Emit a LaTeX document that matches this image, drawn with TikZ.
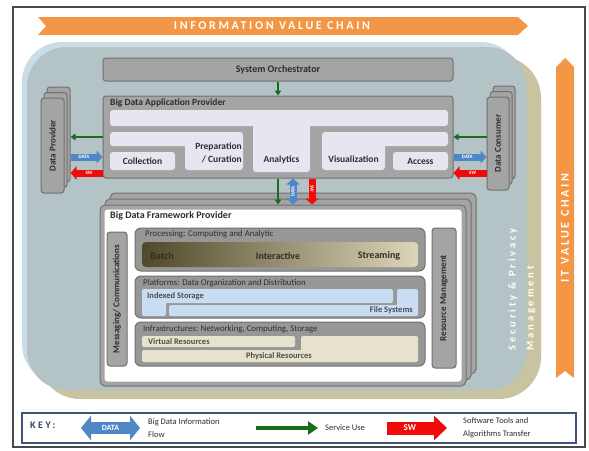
\documentclass[tikz,border=0pt]{standalone}
\usepackage{fontspec}
\setmainfont{Carlito}
\usetikzlibrary{arrows.meta}

\definecolor{chainorange}{HTML}{F39646}
\definecolor{halo}{HTML}{CADCE8}
\definecolor{slate}{HTML}{B4C3C5}
\definecolor{khaki}{HTML}{C8C3A0}
\definecolor{boxgray}{HTML}{A4A4A4}
\definecolor{boxedge}{HTML}{707070}
\definecolor{framegray}{HTML}{4A4A4A}
\definecolor{lavender}{HTML}{E9E5F0}
\definecolor{paleblue}{HTML}{C8DCF2}
\definecolor{paletan}{HTML}{E7E2CC}
\definecolor{olivedark}{HTML}{4F4829}
\definecolor{olivemid}{HTML}{978D64}
\definecolor{olivelight}{HTML}{DDD6B8}
\definecolor{datablue}{HTML}{4F86C6}
\definecolor{swred}{HTML}{F20A0A}
\definecolor{svcgreen}{HTML}{1A6B1A}
\definecolor{keynavy}{HTML}{3E5577}
\definecolor{ink}{HTML}{2E2E2E}

\begin{document}
\begin{tikzpicture}[x=1pt,y=-1pt,
  every node/.style={text=ink,inner sep=0pt},
  graybox/.style={draw=boxedge,fill=boxgray,line width=1pt,rounded corners=3pt},
  layer/.style={draw=boxedge,fill=boxgray!92!black,line width=1pt,rounded corners=6pt,minimum width=290pt},
  heading/.style={font=\fontsize{10}{12}\selectfont\bfseries},
  paneltitle/.style={anchor=west,font=\fontsize{9.5}{11}\selectfont\bfseries},
  layertitle/.style={anchor=west,font=\fontsize{8.8}{10}\selectfont},
  part/.style={font=\fontsize{9.5}{13.5}\selectfont\bfseries},
  item/.style={font=\fontsize{8.5}{10}\selectfont\bfseries,text=ink!85},
  sidelbl/.style={rotate=90,font=\fontsize{9}{10}\selectfont\bfseries},
  chain/.style={text=white,font=\fontsize{12}{14}\selectfont\bfseries\addfontfeature{LetterSpace=22}},
  svc/.style={draw=svcgreen,line width=1.6pt,-{Triangle[length=5pt,width=6.5pt]}},
  dataflow/.style={draw=datablue,line width=7pt,-{Triangle[length=6pt,width=13pt]}},
  databoth/.style={draw=datablue,line width=7pt,{Triangle[length=6pt,width=13pt]}-{Triangle[length=6pt,width=13pt]}},
  swflow/.style={draw=swred,line width=7pt,-{Triangle[length=6pt,width=13pt]}},
  tag/.style={text=white,font=\fontsize{5}{5}\selectfont\bfseries},
  keytext/.style={anchor=west,align=left,font=\fontsize{8.5}{12.5}\selectfont},
]
  \useasboundingbox (0,0) rectangle (589,450);
  \draw[framegray,line width=1.2pt] (13,7) rectangle (585,447);

  % value chains
  \fill[chainorange] (38,17) -- (518,17) -- (528,26) -- (518,35) -- (38,35) -- (46,26) -- cycle;
  \node[chain] (infochain) at (272,26) {INFORMATION VALUE CHAIN};
  \fill[chainorange] (556,378) -- (556,67) -- (565,58) -- (574,67) -- (574,378) -- (565,371) -- cycle;
  \node[chain,rotate=90] (itchain) at (565,228) {IT VALUE CHAIN};

  % security and privacy backdrop
  \fill[halo,rounded corners=40pt] (22,42) rectangle (521,384);
  \fill[khaki,rounded corners=42pt] (38,56) rectangle (541,399);
  \fill[slate,rounded corners=40pt] (27,47) rectangle (527,390);
  \node[chain,font=\fontsize{10.5}{18}\selectfont\bfseries\addfontfeature{LetterSpace=28},rotate=90,anchor=north west,align=left] (secpriv) at (508,351) {Security \& Privacy\\Management};

  % orchestrator and application provider
  \node[graybox,heading,minimum width=350pt,minimum height=23pt] (orch) at (278,69.5) {System Orchestrator};
  \node[graybox,minimum width=350pt,minimum height=82pt] (appprov) at (278,137) {};
  \node[paneltitle] (apptitle) at (110,102.5) {Big Data Application Provider};
  \fill[lavender,rounded corners=3pt] (110,110) rectangle (448,126) (253,110) rectangle (310,172);
  \fill[lavender,rounded corners=3pt] (110,132) rectangle (243,146) (185,132) rectangle (243,170);
  \fill[lavender,rounded corners=3pt] (110,152) rectangle (175,170);
  \fill[lavender,rounded corners=3pt] (322,132) rectangle (448,146) (322,132) rectangle (385,170);
  \fill[lavender,rounded corners=3pt] (393,152) rectangle (448,170);
  \node[part] (collect) at (142.5,161) {Collection};
  \node[part,anchor=east,align=right] (prep) at (242,153) {Preparation\\/ Curation};
  \node[part] (analytics) at (281.5,160) {Analytics};
  \node[part] (visual) at (353.5,159) {Visualization};
  \node[part] (access) at (420.5,161) {Access};
  \draw[svc] (orch) -- (appprov);

  % providers and consumers
  \foreach \dx/\dy/\n in {6/-11/C,3/-5.5/B,0/0/A}
    \node[graybox,minimum width=23pt,minimum height=95pt] (dprov\n) at (52.5+\dx,145.5+\dy) {};
  \node[sidelbl] (dprovlbl) at (dprovA) {Data Provider};
  \foreach \dx/\dy/\n in {6/-11/C,3/-5.5/B,0/0/A}
    \node[graybox,minimum width=22pt,minimum height=93pt] (dcons\n) at (498+\dx,143.5+\dy) {};
  \node[sidelbl] (dconslbl) at (dconsA) {Data Consumer};

  \draw[svc] (appprov.west) -- (dprovC.east |- appprov.west);
  \draw[dataflow] (dprovC.east |- 0,157) -- (appprov.west |- 0,157) node[tag,pos=.42] {DATA};
  \draw[swflow] (appprov.west |- 0,173) -- (dprovC.east |- 0,173) node[tag,pos=.42] {SW};
  \draw[svc] (dconsA.west |- appprov.east) -- (appprov.east);
  \draw[dataflow] (appprov.east |- 0,157) -- (dconsA.west |- 0,157) node[tag,pos=.42] {DATA};
  \draw[swflow] (dconsA.west |- 0,173) -- (appprov.east |- 0,173) node[tag,pos=.42] {SW};

  % framework provider
  \foreach \d/\n in {10/C,5/B}
    \node[graybox,rounded corners=5pt,minimum width=366pt,minimum height=181pt] (fwk\n) at (283+\d,295.5-1.2*\d) {};
  \node[graybox,rounded corners=5pt,minimum width=366pt,minimum height=181pt] (fwk) at (283,295.5) {};
  \node[fill=white,rounded corners=3pt,minimum width=357pt,minimum height=172pt] (fwkin) at (283,295.5) {};
  \node[paneltitle,font=\fontsize{10}{12}\selectfont\bfseries] (fwktitle) at (110,215.5) {Big Data Framework Provider};

  \draw[svc] (appprov.south) -- (appprov.south |- fwk.north);
  \draw[databoth] (293,0 |- appprov.south) -- (293,0 |- fwk.north) node[tag,midway,rotate=90] {DATA};
  \draw[swflow] (312,0 |- appprov.south) -- (312,0 |- fwk.north) node[tag,pos=.4,rotate=-90] {SW};

  \node[graybox,minimum width=20pt,minimum height=134pt] (msg) at (117,299) {};
  \node[sidelbl] (msglbl) at (msg) {Messaging/ Communications};
  \node[graybox,minimum width=24pt,minimum height=140pt] (resmgmt) at (444,298) {};
  \node[sidelbl] (reslbl) at (resmgmt) {Resource Management};

  \node[layer,minimum height=43pt] (proc) at (280,249.5) {};
  \node[layertitle] (proctitle) at (145,234) {Processing: Computing and Analytic};
  \shade[left color=olivedark,middle color=olivemid,right color=olivelight,rounded corners=4pt] (142,242) rectangle (418,267);
  \node[part,font=\fontsize{10}{12}\selectfont\bfseries] (batch) at (162,256) {Batch};
  \node[part,font=\fontsize{10}{12}\selectfont\bfseries] (interact) at (278,256) {Interactive};
  \node[part,font=\fontsize{10}{12}\selectfont\bfseries] (stream) at (379,256) {Streaming};

  \node[layer,minimum height=42pt] (plat) at (280,297) {};
  \node[layertitle] (plattitle) at (143,283.5) {Platforms: Data Organization and Distribution};
  \fill[paleblue,rounded corners=2pt] (142,289) rectangle (393,303) (142,289) rectangle (166,316);
  \fill[paleblue,rounded corners=2pt] (397,289) rectangle (418,316) (169,305) rectangle (418,316);
  \node[item,anchor=west] (idx) at (147,296) {Indexed Storage};
  \node[item,anchor=east] (files) at (413,310.5) {File Systems};

  \node[layer,minimum height=44pt] (infra) at (280,344) {};
  \node[layertitle] (infratitle) at (143,329) {Infrastructures: Networking, Computing, Storage};
  \fill[paletan,rounded corners=2pt] (142,336) rectangle (295,347);
  \fill[paletan,rounded corners=2pt] (301,336) rectangle (418,362) (142,350) rectangle (418,362);
  \node[item,anchor=west] (virt) at (148,341.5) {Virtual Resources};
  \node[item] (phys) at (279,356) {Physical Resources};

  % key
  \node[draw=keynavy,line width=1.2pt,fill=white,minimum width=554pt,minimum height=30pt] (key) at (299,428) {};
  \node[anchor=west,text=keynavy!80!black,font=\fontsize{10}{12}\selectfont\bfseries\addfontfeature{LetterSpace=25}] (keylbl) at (30,425) {KEY:};
  \coordinate (kdataA) at (81,428);
  \coordinate (kdataB) at (140,428);
  \coordinate (ksvcA) at (256,428);
  \coordinate (ksvcB) at (318,428);
  \coordinate (kswA) at (387,428);
  \coordinate (kswB) at (447,428);
  \draw[draw=datablue,line width=12pt,{Triangle[length=10pt,width=24pt]}-{Triangle[length=10pt,width=24pt]}] (kdataA) -- (kdataB) node[midway,text=white,font=\fontsize{8}{9}\selectfont\bfseries] {DATA};
  \draw[draw=svcgreen,line width=4pt,-{Triangle[length=10pt,width=13pt]}] (ksvcA) -- (ksvcB);
  \draw[draw=swred,line width=13pt,-{Triangle[length=13pt,width=24pt]}] (kswA) -- (kswB) node[pos=.38,text=white,font=\fontsize{9}{10}\selectfont\bfseries] {SW};
  \node[keytext] (kdatatxt) at (148,428) {Big Data Information\\Flow};
  \node[keytext] (ksvctxt) at (325,428) {Service Use};
  \node[keytext] (kswtxt) at (463,428) {Software Tools and\\Algorithms Transfer};
\end{tikzpicture}
\end{document}
